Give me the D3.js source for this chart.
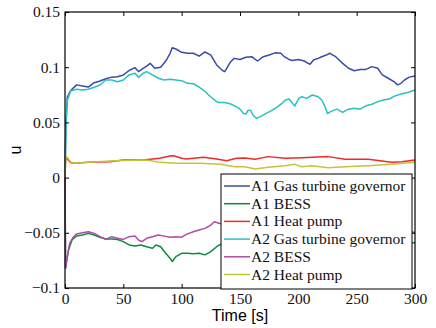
<!DOCTYPE html>
<html>
<head>
<meta charset="utf-8">
<script src="https://cdn.jsdelivr.net/npm/d3@7"></script>
<style>
  body { margin: 0; background: #fff; }
  svg { display: block; }
</style>
</head>
<body>
<svg id="chart" width="436" height="328"></svg>
<script>
// series as [time s, u]
const a1Gas = [[0,0],[0.8,0.05],[2,0.073],[5,0.079],[10,0.084],[15,0.083],[20,0.082],[25,0.086],[30,0.0875],[35,0.0896],[40,0.091],[45,0.0914],[50,0.093],[55,0.097],[60,0.0996],[63,0.096],[67,0.099],[70,0.101],[73,0.1035],[77,0.099],[82,0.1],[87,0.1065],[90,0.1126],[92,0.1177],[95,0.1165],[100,0.1135],[105,0.1126],[110,0.1126],[115,0.11],[120,0.1138],[125,0.111],[130,0.102],[132,0.1],[135,0.097],[137,0.096],[142,0.105],[145,0.108],[150,0.107],[155,0.109],[160,0.1095],[165,0.1056],[170,0.1095],[175,0.111],[180,0.113],[185,0.1126],[188,0.1095],[192,0.107],[195,0.106],[200,0.107],[205,0.1056],[210,0.1026],[213,0.1065],[217,0.108],[220,0.1095],[224,0.111],[227,0.1126],[232,0.1095],[238,0.1035],[243,0.099],[248,0.0968],[253,0.098],[258,0.098],[263,0.1005],[268,0.099],[272,0.093],[277,0.09],[282,0.087],[285,0.084],[288,0.0854],[291,0.0884],[295,0.091],[300,0.092]];
const a1Bess = [[0,0],[0.5,-0.082],[1,-0.0776],[3,-0.0656],[6,-0.0565],[10,-0.0529],[15,-0.052],[20,-0.0505],[25,-0.052],[30,-0.054],[35,-0.0556],[40,-0.0556],[45,-0.056],[50,-0.058],[55,-0.061],[60,-0.062],[65,-0.061],[70,-0.0626],[75,-0.064],[78,-0.061],[82,-0.0626],[86,-0.068],[90,-0.073],[92,-0.076],[95,-0.0716],[100,-0.0686],[105,-0.0686],[110,-0.069],[115,-0.0686],[120,-0.07],[125,-0.067],[130,-0.0626],[134,-0.06],[180,-0.061],[240,-0.06],[300,-0.059]];
const a1Heat = [[0,0],[0.6,0.0175],[1.4,0.0175],[5,0.0135],[8.6,0.013],[20,0.0138],[38.6,0.0144],[50,0.016],[67,0.016],[81,0.0175],[90,0.0196],[93,0.0198],[100,0.0175],[104,0.0168],[118.6,0.0184],[130,0.0168],[138.6,0.0153],[147,0.0175],[154,0.0178],[163,0.0166],[174,0.019],[188.6,0.0175],[203,0.018],[225.7,0.019],[240,0.0166],[260,0.0166],[280,0.0138],[288.6,0.0144],[300,0.016]];
const a2Gas = [[0,0],[0.8,0.045],[2,0.07],[5,0.0787],[10,0.08],[15,0.0793],[20,0.08],[25,0.0818],[30,0.0839],[35,0.0884],[40,0.0884],[45,0.0869],[50,0.0884],[55,0.093],[60,0.0945],[63,0.0908],[67,0.0945],[70,0.096],[75,0.093],[80,0.09],[85,0.0884],[90,0.089],[95,0.0884],[100,0.0878],[105,0.0854],[110,0.085],[115,0.082],[120,0.078],[125,0.073],[130,0.0688],[132,0.068],[137,0.068],[142,0.0667],[147,0.064],[150,0.062],[153,0.058],[155,0.0576],[157,0.061],[159,0.061],[161,0.0567],[164,0.0537],[167,0.055],[172,0.058],[177,0.0606],[182,0.064],[186,0.0673],[189,0.0703],[192,0.0712],[195,0.0673],[197,0.0649],[200,0.0712],[203,0.0733],[207,0.0718],[212,0.0748],[217,0.0733],[220,0.0703],[223,0.064],[225,0.058],[228,0.06],[233,0.062],[238,0.059],[243,0.062],[248,0.0628],[253,0.062],[258,0.065],[263,0.0664],[268,0.0688],[273,0.0703],[278,0.0712],[283,0.074],[288,0.0757],[293,0.0769],[300,0.0793]];
const a2Bess = [[0,0],[0.5,-0.082],[2,-0.0716],[4,-0.0595],[7,-0.054],[10,-0.051],[15,-0.05],[20,-0.049],[25,-0.0505],[30,-0.0535],[35,-0.056],[40,-0.0535],[45,-0.055],[50,-0.056],[55,-0.0535],[60,-0.053],[63,-0.0565],[66,-0.058],[70,-0.055],[75,-0.0535],[80,-0.052],[85,-0.053],[90,-0.054],[95,-0.0535],[100,-0.054],[105,-0.051],[110,-0.049],[115,-0.0475],[120,-0.046],[125,-0.043],[128,-0.04],[132,-0.0414],[135,-0.042],[180,-0.045],[240,-0.047],[300,-0.0494]];
const a2Heat = [[0,0],[0.6,0.019],[1.4,0.019],[5,0.014],[8.6,0.013],[20,0.014],[38.6,0.015],[50,0.0155],[67,0.016],[73,0.0155],[81,0.0138],[96,0.013],[116,0.013],[133,0.012],[145.7,0.0099],[154,0.0099],[163,0.0078],[174,0.0093],[188.6,0.0108],[197,0.012],[203,0.0099],[211.6,0.0108],[225.7,0.009],[240,0.0099],[260,0.0108],[280,0.012],[300,0.0138]];

const seriesNames = ["A1 Gas turbine governor", "A1 BESS", "A1 Heat pump", "A2 Gas turbine governor", "A2 BESS", "A2 Heat pump"];
const seriesData = [a1Gas, a1Bess, a1Heat, a2Gas, a2Bess, a2Heat];
const seriesColors = ["#3a4ca8", "#0e8a3e", "#ee2a2a", "#27c2c2", "#b04aa8", "#c4c43a"];

const xTicks = [0, 50, 100, 150, 200, 250, 300];
const yTicks = [-0.1, -0.05, 0, 0.05, 0.1, 0.15];

const margin = { top: 12, right: 21, bottom: 40, left: 65 };
const svg = d3.select("#chart");
const width = 436 - margin.left - margin.right;
const height = 328 - margin.top - margin.bottom;
const serif = "'Liberation Serif', 'Times New Roman', Times, serif";
const sans = "'Liberation Sans', Arial, Helvetica, sans-serif";

const g = svg.append("g")
  .attr("transform", `translate(${margin.left},${margin.top})`);

const x = d3.scaleLinear().domain([0, 300]).range([0, width]);
const y = d3.scaleLinear().domain([-0.1, 0.15]).range([height, 0]);

const fmtY = d => d === 0 ? "0" : String(+d.toFixed(2)).replace("-", "\u2212");

// lines
const line = d3.line().x(d => x(d[0])).y(d => y(d[1]));
seriesData.forEach((s, i) => {
  g.append("path")
    .datum(s)
    .attr("fill", "none")
    .attr("stroke", seriesColors[i])
    .attr("stroke-width", 1.5)
    .attr("stroke-linejoin", "round")
    .attr("d", line);
});

// axes, matlab style box with inward ticks
const tk = 4;
g.append("g").attr("transform", `translate(0,${height})`)
  .call(d3.axisBottom(x).tickValues(xTicks).tickSizeInner(-tk).tickSizeOuter(0).tickPadding(5).tickFormat(d3.format("d")));
g.append("g")
  .call(d3.axisLeft(y).tickValues(yTicks).tickSizeInner(-tk).tickSizeOuter(0).tickPadding(5).tickFormat(fmtY));
g.append("g")
  .call(d3.axisTop(x).tickValues(xTicks).tickSizeInner(-tk).tickSizeOuter(0).tickFormat(""));
g.append("g").attr("transform", `translate(${width},0)`)
  .call(d3.axisRight(y).tickValues(yTicks).tickSizeInner(-tk).tickSizeOuter(0).tickFormat(""));

g.selectAll(".domain").remove();
g.selectAll(".tick line").attr("stroke", "#000");
g.selectAll(".tick text").attr("font-family", serif).attr("font-size", 15.5).attr("fill", "#111");

g.append("rect")
  .attr("width", width).attr("height", height)
  .attr("fill", "none").attr("stroke", "#000").attr("stroke-width", 1.2);

// legend
const lg = g.append("g").attr("transform", `translate(${221 - margin.left},${174 - margin.top})`);
lg.append("rect")
  .attr("width", 191).attr("height", 115)
  .attr("fill", "#fff").attr("stroke", "#000").attr("stroke-width", 1);
seriesNames.forEach((n, i) => {
  const ry = 12 + i * 17.7;
  lg.append("line")
    .attr("x1", 3).attr("x2", 29).attr("y1", ry).attr("y2", ry)
    .attr("stroke", seriesColors[i]).attr("stroke-width", 1.5);
  lg.append("text")
    .attr("x", 30).attr("y", ry + 5)
    .attr("font-family", serif).attr("font-size", 15.5).attr("fill", "#111")
    .text(n);
});

// axis labels
svg.append("text")
  .attr("x", margin.left + width / 2).attr("y", 321)
  .attr("text-anchor", "middle")
  .attr("font-family", sans).attr("font-size", 16)
  .text("Time [s]");
svg.append("text")
  .attr("transform", `translate(21,${margin.top + height / 2}) rotate(-90)`)
  .attr("text-anchor", "middle")
  .attr("font-family", sans).attr("font-size", 16)
  .text("u");
</script>
</body>
</html>
